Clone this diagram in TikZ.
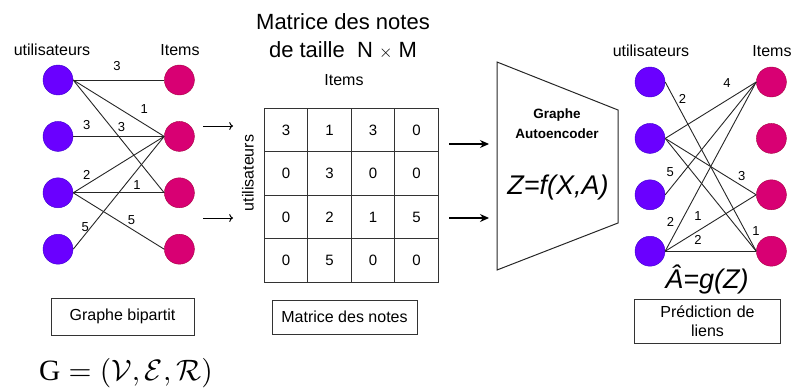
\documentclass[tikz,border=0pt]{standalone}
\usepackage{amsmath}
\usepackage{fontspec}
\setmainfont{Liberation Sans}
\newfontfamily\gserif{Liberation Serif}
\usepackage{tikz}
\usetikzlibrary{positioning, arrows.meta}

\definecolor{userfill}{HTML}{6A00FF}
\definecolor{userline}{HTML}{3700CC}
\definecolor{itemfill}{HTML}{D80073}
\definecolor{itemline}{HTML}{A50040}

\begin{document}
\begin{tikzpicture}[
        x=1pt, y=-1pt,
        user/.style={circle, draw=userline, fill=userfill, minimum size=30pt, inner sep=0pt},
        item/.style={circle, draw=itemline, fill=itemfill, minimum size=30pt, inner sep=0pt},
        edge/.style={draw=black!85, line width=0.9pt},
        lbl/.style={font=\fontsize{13}{13}\selectfont, inner sep=1pt},
        head/.style={font=\fontsize{16}{16}\selectfont, inner sep=0pt},
        cell/.style={rectangle, draw=black!80, line width=1pt, minimum size=43.5pt, outer sep=0pt, inner sep=0pt, font=\fontsize{15}{15}\selectfont},
        caption/.style={rectangle, draw=black!80, line width=1pt, font=\fontsize{16}{19}\selectfont, align=center}
    ]
    \useasboundingbox (0,0) rectangle (793,391);

    % Left side - bipartite graph
    \node[head] (lusers) at (52,50) {utilisateurs};
    \node[head] (litems) at (180,50) {Items};
    \node[user] (u1) at (58,80) {};
    \node[user, below=26pt of u1] (u2) {};
    \node[user, below=26pt of u2] (u3) {};
    \node[user, below=26pt of u3] (u4) {};
    \node[item, right=91pt of u1] (i1) {};
    \node[item, right=91pt of u2] (i2) {};
    \node[item, right=91pt of u3] (i3) {};
    \node[item, right=91pt of u4] (i4) {};

    \draw[edge] (u1.east) -- (i1.west) node[lbl, pos=.48, above=8pt] {3};
    \draw[edge] (u1.east) -- (i2.west) node[lbl, pos=.78, above=9pt] {1};
    \draw[edge] (u1.east) -- (i3.west) node[lbl, pos=.53, above=7pt] {3};
    \draw[edge] (u2.east) -- (i2.west) node[lbl, pos=.15, above=5pt] {3};
    \draw[edge] (u3.east) -- (i2.west) node[lbl, pos=.15, above=3pt] {2};
    \draw[edge] (u3.east) -- (i3.west) node[lbl, pos=.7, above=2pt] {1};
    \draw[edge] (u3.east) -- (i4.west) node[lbl, pos=.64, above=3pt] {5};
    \draw[edge] (u4.east) -- (i2.west) node[lbl, pos=.2, left=1pt] {5};

    \node[caption, minimum width=143pt, minimum height=37pt] (bipartit) at (122.5,316.5) {Graphe bipartit};
    \node[inner sep=0pt, scale=2.95] (gdef) at (126,373) {$\text{\gserif G} = (\mathcal{V},\mathcal{E},\mathcal{R})$};

    % Arrows into the matrix
    \coordinate (l1s) at (203,126);
    \coordinate (l1e) at (233,126);
    \coordinate (l2s) at (203,218);
    \coordinate (l2e) at (233,218);
    \draw[->, line width=1pt] (l1s) -- (l1e);
    \draw[->, line width=1pt] (l2s) -- (l2e);

    % Rating matrix
    \node[font=\fontsize{22}{28}\selectfont, align=center] (title) at (343,36) {Matrice des notes\\de taille\ \ N {\fontsize{17}{17}\selectfont$\times$} M};
    \node[head] (mitems) at (344,80) {Items};
    \node[head, rotate=90] (musers) at (248,173) {utilisateurs};

    \node[cell] (c11) at (286,130) {3};
    \node[cell, right=0pt of c11] (c12) {1};
    \node[cell, right=0pt of c12] (c13) {3};
    \node[cell, right=0pt of c13] (c14) {0};
    \node[cell, below=0pt of c11] (c21) {0};
    \node[cell, right=0pt of c21] (c22) {3};
    \node[cell, right=0pt of c22] (c23) {0};
    \node[cell, right=0pt of c23] (c24) {0};
    \node[cell, below=0pt of c21] (c31) {0};
    \node[cell, right=0pt of c31] (c32) {2};
    \node[cell, right=0pt of c32] (c33) {1};
    \node[cell, right=0pt of c33] (c34) {5};
    \node[cell, below=0pt of c31] (c41) {0};
    \node[cell, right=0pt of c41] (c42) {5};
    \node[cell, right=0pt of c42] (c43) {0};
    \node[cell, right=0pt of c43] (c44) {0};

    \node[caption, minimum width=145pt, minimum height=34pt] (matcap) at (344.5,317) {Matrice des notes};

    % Arrows into the autoencoder
    \coordinate (r1s) at (449,144);
    \coordinate (r1e) at (489,144);
    \coordinate (r2s) at (449,218);
    \coordinate (r2e) at (489,218);
    \draw[-{Stealth[length=9pt, width=8pt]}, line width=1.2pt] (r1s) -- (r1e);
    \draw[-{Stealth[length=9pt, width=8pt]}, line width=1.2pt] (r2s) -- (r2e);

    % Autoencoder
    \draw[draw=black!85, line width=1pt] (497,62) -- (618,110) -- (618,223) -- (497,270) -- cycle;
    \node[font=\bfseries\fontsize{13.5}{20}\selectfont, align=center] (gae) at (557,124) {Graphe\\Autoencoder};
    \node[font=\itshape\fontsize{27}{27}\selectfont] (zf) at (558,188) {Z=f(X,A)};

    % Right side - predicted links
    \node[head] (rusers) at (651,51) {utilisateurs};
    \node[head] (ritems) at (772,51) {Items};
    \node[user] (ru1) at (650,82) {};
    \node[user, below=26pt of ru1] (ru2) {};
    \node[user, below=26pt of ru2] (ru3) {};
    \node[user, below=26pt of ru3] (ru4) {};
    \node[item, right=91pt of ru1] (ri1) {};
    \node[item, right=91pt of ru2] (ri2) {};
    \node[item, right=91pt of ru3] (ri3) {};
    \node[item, right=91pt of ru4] (ri4) {};

    \draw[edge] (ru1.east) -- (ri4.west) node[lbl, pos=.1, right=3pt] {2};
    \draw[edge] (ru2.east) -- (ri1.west) node[lbl, pos=.68, above=11pt] {4};
    \draw[edge] (ru2.east) -- (ri3.west) node[lbl, pos=.84, above=4pt] {3};
    \draw[edge] (ru2.east) -- (ri4.west) node[lbl, pos=.82, right=11pt] {1};
    \draw[edge] (ru3.east) -- (ri1.west) node[lbl, pos=.2, left=8pt] {5};
    \draw[edge] (ru4.east) -- (ri1.west) node[lbl, pos=.17, left=5pt] {2};
    \draw[edge] (ru4.east) -- (ri3.west) node[lbl, pos=.36, above=9pt] {1};
    \draw[edge] (ru4.east) -- (ri4.west) node[lbl, pos=.36, above=5pt] {2};

    \node[font=\itshape\fontsize{27}{27}\selectfont] (ag) at (707,279) {Â=g(Z)};
    \node[caption, minimum width=145pt, minimum height=44pt, text width=140pt] (predcap) at (707.5,321) {Prédiction de\\liens};

\end{tikzpicture}
\end{document}
